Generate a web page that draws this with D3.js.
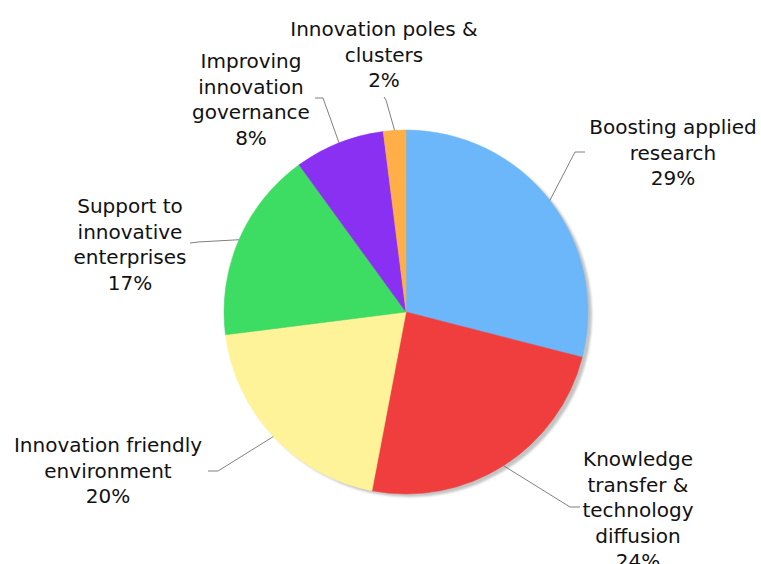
<!DOCTYPE html>
<html>
<head>
<meta charset="utf-8">
<script src="https://cdn.jsdelivr.net/npm/d3@7"></script>
<style>
  html, body { margin: 0; padding: 0; background: #ffffff; }
  svg { display: block; }
  text { font-family: "DejaVu Sans", Verdana, sans-serif; }
</style>
</head>
<body>
<svg id="chart" width="761" height="564"></svg>
<script>
// ---- data ----
const categories = [
  "Boosting applied research",
  "Knowledge transfer & technology diffusion",
  "Innovation friendly environment",
  "Support to innovative enterprises",
  "Improving innovation governance",
  "Innovation poles & clusters"
];
const values = [29, 24, 20, 17, 8, 2];
const colors = ["#6cb6fa", "#f03e3e", "#fff39a", "#3ddc62", "#8a30f2", "#ffae48"];
// label lines (text wrapped as in the original)
const labelLines = [
  ["Boosting applied", "research"],
  ["Knowledge", "transfer &", "technology", "diffusion"],
  ["Innovation friendly", "environment"],
  ["Support to", "innovative", "enterprises"],
  ["Improving", "innovation", "governance"],
  ["Innovation poles &", "clusters"]
];

// ---- layout (positions of label blocks and leader elbows) ----
const cx = 406, cy = 312, R = 182;
const labelLayout = [
  { x: 673, y: 134, elbow: [575, 152], end: [585, 152] },
  { x: 638, y: 466, elbow: [570, 507], end: [580, 507] },
  { x: 108, y: 452, elbow: [218, 471], end: [208, 471] },
  { x: 130, y: 213, elbow: [198, 242], end: [190, 243] },
  { x: 251, y: 68,  elbow: [323, 98],  end: [315, 98] },
  { x: 384, y: 36,  elbow: [386, 100], end: [384, 97] }
];
const lineH = 25.6;

const svg = d3.select("#chart");
const data = categories.map((c, i) => ({ name: c, value: values[i], color: colors[i], lines: labelLines[i], layout: labelLayout[i] }));

const pie = d3.pie().sort(null).value(d => d.value).startAngle(0).endAngle(2 * Math.PI);
const arcs = pie(data);
const arc = d3.arc().innerRadius(0).outerRadius(R);

// shadow
const defs = svg.append("defs");
const f = defs.append("filter").attr("id", "blur").attr("x", "-10%").attr("y", "-10%").attr("width", "120%").attr("height", "120%");
f.append("feGaussianBlur").attr("stdDeviation", 1.2);

svg.append("circle")
  .attr("cx", cx + 4).attr("cy", cy + 3).attr("r", R)
  .attr("fill", "#c4c4c4")
  .attr("filter", "url(#blur)");

const g = svg.append("g").attr("transform", `translate(${cx},${cy})`);
g.selectAll("path.slice")
  .data(arcs)
  .join("path")
  .attr("class", "slice")
  .attr("d", arc)
  .attr("fill", d => d.data.color)
  .attr("stroke", d => d.data.color)
  .attr("stroke-width", 0.5);

// leader lines
arcs.forEach(a => {
  const mid = (a.startAngle + a.endAngle) / 2;
  const sx = cx + R * Math.sin(mid);
  const sy = cy - R * Math.cos(mid);
  const L = a.data.layout;
  svg.append("polyline")
    .attr("points", [[sx, sy], L.elbow, L.end].map(p => p.join(",")).join(" "))
    .attr("fill", "none")
    .attr("stroke", "#808080")
    .attr("stroke-width", 1);
});

// labels
const fmt = v => Math.round(v) + "%";
arcs.forEach(a => {
  const L = a.data.layout;
  const t = svg.append("text")
    .attr("text-anchor", "middle")
    .attr("font-size", 20)
    .attr("fill", "#111");
  const lines = a.data.lines.concat([fmt(a.data.value)]);
  lines.forEach((ln, i) => {
    t.append("tspan")
      .attr("x", L.x)
      .attr("y", L.y + i * lineH)
      .text(ln);
  });
});
</script>
</body>
</html>
